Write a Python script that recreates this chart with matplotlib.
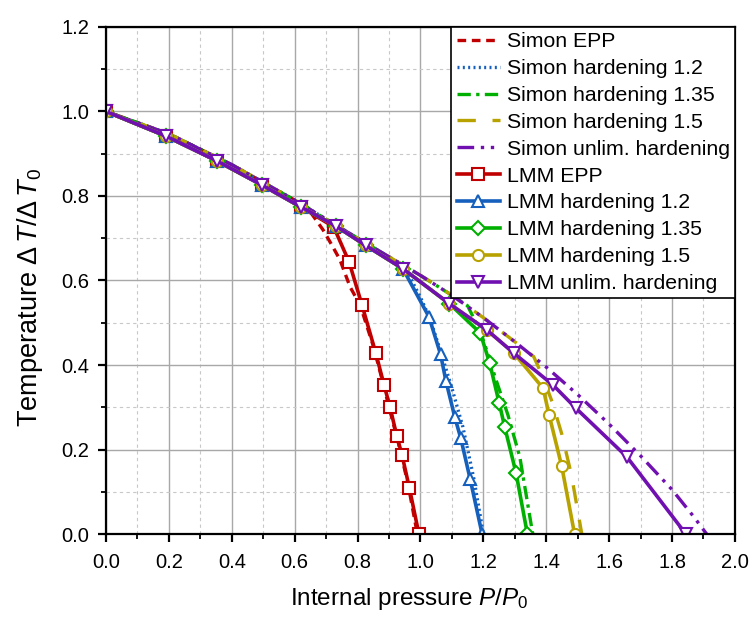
import matplotlib
matplotlib.use("Agg")
import matplotlib.pyplot as plt
from matplotlib.ticker import MultipleLocator

plt.rcParams['font.family'] = ['Liberation Sans', 'DejaVu Sans']
plt.rcParams['mathtext.fontset'] = 'custom'
plt.rcParams['mathtext.rm'] = 'Liberation Sans'
plt.rcParams['mathtext.it'] = 'Liberation Sans:italic'

# ---- Data ----
simon_epp_x = [0.0, 0.2, 0.4, 0.6, 0.65, 0.69, 0.718, 0.744, 0.776, 0.808, 0.85, 0.88, 0.90, 0.93, 0.96, 0.99]
simon_epp_y = [1.0, 0.947, 0.874, 0.79, 0.762, 0.72, 0.684, 0.649, 0.585, 0.542, 0.445, 0.36, 0.30, 0.215, 0.12, 0.0]

simon_12_x = [0.0, 0.2, 0.4, 0.6, 0.8, 0.95, 1.0, 1.03, 1.065, 1.1, 1.135, 1.17, 1.2]
simon_12_y = [1.0, 0.947, 0.874, 0.79, 0.70, 0.632, 0.56, 0.51, 0.43, 0.345, 0.253, 0.13, 0.0]

simon_135_x = [0.0, 0.2, 0.4, 0.6, 0.8, 1.0, 1.1, 1.15, 1.19, 1.215, 1.237, 1.278, 1.316, 1.357]
simon_135_y = [1.0, 0.947, 0.874, 0.79, 0.70, 0.612, 0.565, 0.54, 0.48, 0.425, 0.372, 0.282, 0.182, 0.0]

simon_15_x = [0.0, 0.2, 0.4, 0.6, 0.8, 1.0, 1.1, 1.2, 1.3, 1.36, 1.39, 1.42, 1.45, 1.48, 1.513]
simon_15_y = [1.0, 0.947, 0.874, 0.79, 0.70, 0.612, 0.565, 0.512, 0.455, 0.42, 0.37, 0.31, 0.235, 0.14, 0.0]

simon_unl_x = [0.0, 0.2, 0.4, 0.6, 0.8, 1.0, 1.1, 1.2, 1.3, 1.4, 1.5, 1.6, 1.7, 1.8, 1.87, 1.91]
simon_unl_y = [1.0, 0.947, 0.874, 0.79, 0.70, 0.612, 0.565, 0.512, 0.455, 0.395, 0.33, 0.26, 0.185, 0.105, 0.04, 0.0]

lmm_epp_x = [0.0, 0.19, 0.353, 0.496, 0.62, 0.724, 0.773, 0.814, 0.858, 0.884, 0.903, 0.925, 0.941, 0.965, 0.995]
lmm_epp_y = [1.0, 0.942, 0.883, 0.826, 0.774, 0.727, 0.644, 0.542, 0.428, 0.353, 0.301, 0.231, 0.188, 0.108, 0.0]

lmm_12_x = [0.0, 0.19, 0.353, 0.496, 0.62, 0.731, 0.826, 0.944, 1.027, 1.064, 1.081, 1.109, 1.128, 1.158, 1.196]
lmm_12_y = [1.0, 0.942, 0.883, 0.826, 0.774, 0.729, 0.683, 0.628, 0.514, 0.425, 0.362, 0.277, 0.227, 0.13, 0.0]

lmm_135_x = [0.0, 0.19, 0.353, 0.496, 0.62, 0.731, 0.826, 0.944, 1.092, 1.19, 1.22, 1.25, 1.268, 1.304, 1.34]
lmm_135_y = [1.0, 0.942, 0.883, 0.826, 0.774, 0.729, 0.683, 0.628, 0.545, 0.476, 0.405, 0.311, 0.253, 0.144, 0.0]

lmm_15_x = [0.0, 0.19, 0.353, 0.496, 0.62, 0.731, 0.826, 0.944, 1.092, 1.211, 1.297, 1.39, 1.409, 1.449, 1.49]
lmm_15_y = [1.0, 0.942, 0.883, 0.826, 0.774, 0.729, 0.683, 0.628, 0.545, 0.483, 0.428, 0.345, 0.282, 0.161, 0.0]

lmm_unl_x = [0.0, 0.19, 0.353, 0.496, 0.62, 0.731, 0.826, 0.944, 1.092, 1.211, 1.297, 1.421, 1.494, 1.657, 1.844]
lmm_unl_y = [1.0, 0.942, 0.883, 0.826, 0.774, 0.729, 0.683, 0.628, 0.545, 0.483, 0.428, 0.353, 0.298, 0.182, 0.0]

x_ticks = [0.0, 0.2, 0.4, 0.6, 0.8, 1.0, 1.2, 1.4, 1.6, 1.8, 2.0]
y_ticks = [0.0, 0.2, 0.4, 0.6, 0.8, 1.0, 1.2]

RED = '#c00000'
BLUE = '#1560bd'
GREEN = '#00b000'
OLIVE = '#b8a200'
PURPLE = '#7010b0'

fig = plt.figure(figsize=(7.53, 6.19), dpi=100)
ax = fig.add_axes([0.1408, 0.1373, 0.976 - 0.1408, 0.9564 - 0.1373])

ax.set_xlim(0, 2.0)
ax.set_ylim(0, 1.2)
ax.xaxis.set_minor_locator(MultipleLocator(0.1))
ax.yaxis.set_minor_locator(MultipleLocator(0.1))
ax.set_xticks(x_ticks)
ax.set_yticks(y_ticks)
ax.set_xticklabels([f'{v:.1f}' for v in x_ticks])
ax.set_yticklabels([f'{v:.1f}' for v in y_ticks])

ax.grid(which='major', color='#a8a8a8', linewidth=1.0, linestyle='-')
ax.grid(which='minor', color='#c8c8c8', linewidth=0.8, linestyle=(0, (3, 3)))
ax.set_axisbelow(True)

for s in ax.spines.values():
    s.set_linewidth(1.6)
ax.tick_params(which='major', direction='out', length=6, width=1.6, labelsize=14.5)
ax.tick_params(axis='x', which='major', pad=8)
ax.tick_params(axis='y', which='major', pad=6)
ax.tick_params(which='minor', direction='out', length=3.5, width=1.3)

lw = 2.4
ax.plot(simon_epp_x, simon_epp_y, color=RED, lw=lw, ls=(0, (2.6, 1.7)), label='Simon EPP')
ax.plot(simon_12_x, simon_12_y, color=BLUE, lw=lw, ls=(0, (0.6, 1.0)), label='Simon hardening 1.2')
ax.plot(simon_135_x, simon_135_y, color=GREEN, lw=lw, ls=(0, (4, 1.6, 1, 1.6)), label='Simon hardening 1.35')
ax.plot(simon_15_x, simon_15_y, color=OLIVE, lw=lw, ls=(0, (5.5, 5)), label='Simon hardening 1.5')
ax.plot(simon_unl_x, simon_unl_y, color=PURPLE, lw=lw, ls=(0, (5, 2, 1, 2, 1, 2)), label='Simon unlim. hardening')

mk = dict(markersize=8, markerfacecolor='white', markeredgewidth=1.5, lw=2.6)
ax.plot(lmm_epp_x, lmm_epp_y, color=RED, marker='s', label='LMM EPP', **mk)
ax.plot(lmm_12_x, lmm_12_y, color=BLUE, marker='^', label='LMM hardening 1.2', **mk)
ax.plot(lmm_135_x, lmm_135_y, color=GREEN, marker='D', label='LMM hardening 1.35', **dict(mk, markersize=7))
ax.plot(lmm_15_x, lmm_15_y, color=OLIVE, marker='o', label='LMM hardening 1.5', **mk)
ax.plot(lmm_unl_x, lmm_unl_y, color=PURPLE, marker='v', label='LMM unlim. hardening', **mk)

ax.set_xlabel(r'Internal pressure $\it{P}$/$\it{P}_0$', fontsize=17.5, va='top')
ax.xaxis.set_label_coords(0.4825, -0.1026)
ax.set_ylabel('Temperature $\\Delta\\,\\it{T}$/$\\Delta\\,\\it{T}_0$', fontsize=19.5)
ax.yaxis.set_label_coords(-0.097, 0.467)

leg = ax.legend(loc='upper right', fontsize=15.3, frameon=True, fancybox=False,
                edgecolor='black', framealpha=1.0, borderaxespad=0.0, borderpad=0.25,
                labelspacing=0.37, handlelength=2.05, handletextpad=0.3)
leg.get_frame().set_linewidth(1.2)

fig.savefig('out.png', dpi=100, facecolor='white')
